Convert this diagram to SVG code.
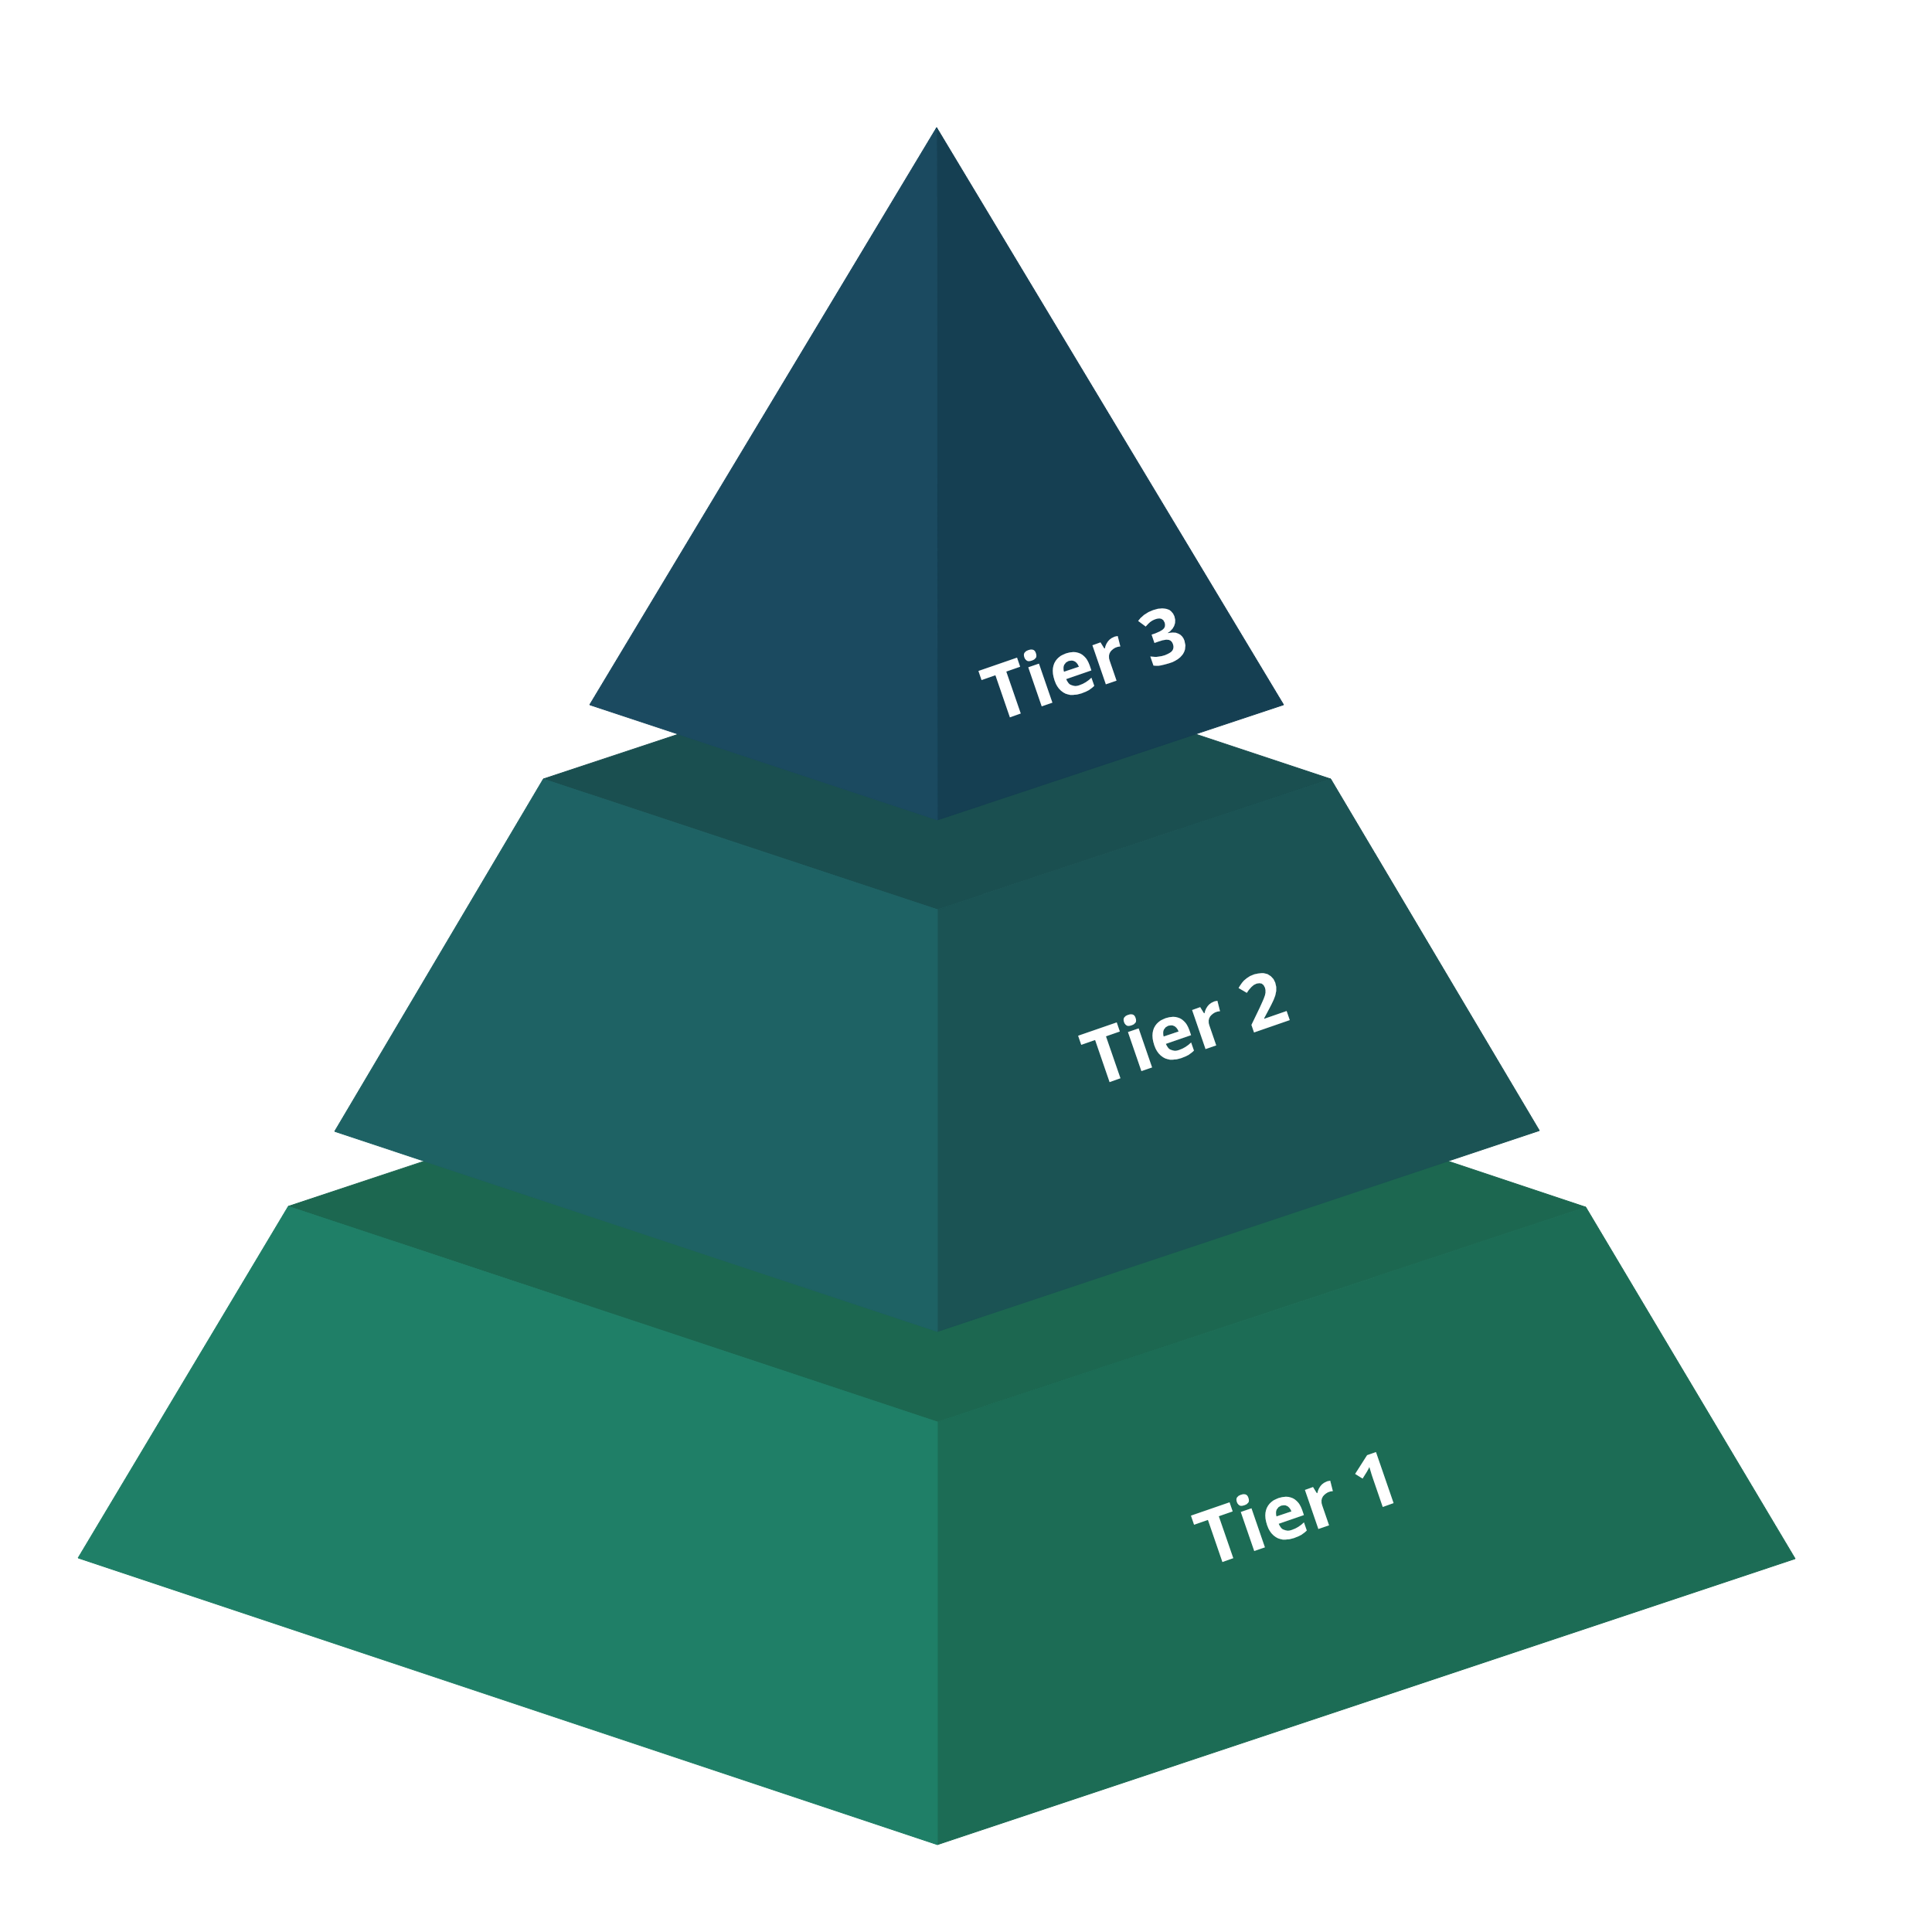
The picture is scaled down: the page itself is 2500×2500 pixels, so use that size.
<svg xmlns="http://www.w3.org/2000/svg" width="2500" height="2500" viewBox="0 0 2500 2500">
  <style>
    .label { font-family: "Open Sans", "Liberation Sans", Arial, sans-serif; font-weight: 700; font-size: 98px; fill: #ffffff; text-anchor: middle; }
    .face { stroke-width: 1; stroke-linejoin: round; }
  </style>
  <rect x="0" y="0" width="2500" height="2500" fill="#ffffff"/>
  <g id="tier1">
    <polygon class="face" points="373,1561 1213,1282 2052,1562 1213,1840" fill="#1c6750" stroke="#1c6750"/>
    <polygon class="face" points="1213,1840 2052,1562 2323,2017 1213,2387" fill="#1c6c55" stroke="#1c6c55"/>
    <polygon class="face" points="373,1561 1213,1840 1213,2387 101,2016" fill="#1f7f67" stroke="#1f7f67"/>
    <text class="label" x="1690" y="1984" transform="rotate(-19 1690 1984)">Tier 1</text>
  </g>
  <g id="tier2">
    <polygon class="face" points="703,1008 1213,839 1722,1008 1213,1177" fill="#1a4f50" stroke="#1a4f50"/>
    <polygon class="face" points="1213,1177 1722,1008 1992,1463 1213,1723" fill="#1b5354" stroke="#1b5354"/>
    <polygon class="face" points="703,1008 1213,1177 1213,1723 433,1464" fill="#1e6264" stroke="#1e6264"/>
    <text class="label" x="1544" y="1363" transform="rotate(-19 1544 1363)">Tier 2</text>
  </g>
  <g id="tier3">
    <polygon class="face" points="1212,165 1213,1061 1661,912" fill="#153f52" stroke="#153f52"/>
    <polygon class="face" points="1212,165 763,912 1213,1061" fill="#1b4a60" stroke="#1b4a60"/>
    <text class="label" x="1415" y="891" transform="rotate(-19 1415 891)">Tier 3</text>
  </g>
  <g id="connectors"/>
</svg>
